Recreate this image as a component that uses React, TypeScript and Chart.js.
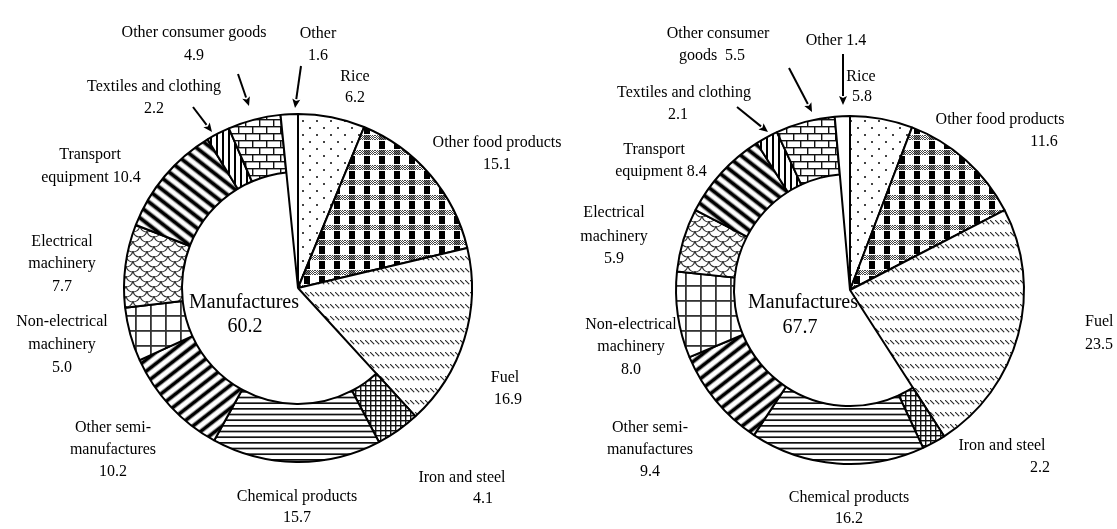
import React, { useEffect, useRef } from 'react';
import { Chart, registerables } from 'chart.js';

Chart.register(...registerables);

// ---------- data ----------
const categories = [
  'Rice', 'Other food products', 'Fuel', 'Iron and steel', 'Chemical products',
  'Other semi-manufactures', 'Non-electrical machinery', 'Electrical machinery',
  'Transport equipment', 'Textiles and clothing', 'Other consumer goods', 'Other',
];
const isManufacture = [false, false, false, true, true, true, true, true, true, true, true, false];
const valuesLeft = [6.2, 15.1, 16.9, 4.1, 15.7, 10.2, 5.0, 7.7, 10.4, 2.2, 4.9, 1.6];
const valuesRight = [5.8, 11.6, 23.5, 2.2, 16.2, 9.4, 8.0, 5.9, 8.4, 2.1, 5.5, 1.4];
const manufacturesLeft = '60.2';
const manufacturesRight = '67.7';

// ---------- layout ----------
const W = 1117;
const H = 529;
const RADIUS = 174;
const INNER_RATIO = 0.667;
const FONT = "'Liberation Serif', 'Times New Roman', serif";

type Line = { t: string; x: number; y: number; align?: CanvasTextAlign; size?: number };
type Arrow = [number, number, number, number];

const labelsLeft: Line[] = [
  { t: 'Other consumer goods', x: 194, y: 33 }, { t: '4.9', x: 194, y: 56 },
  { t: 'Other', x: 318, y: 34 }, { t: '1.6', x: 318, y: 56 },
  { t: 'Rice', x: 355, y: 77 }, { t: '6.2', x: 355, y: 98 },
  { t: 'Other food products', x: 497, y: 143 }, { t: '15.1', x: 497, y: 165 },
  { t: 'Fuel', x: 505, y: 378 }, { t: '16.9', x: 508, y: 400 },
  { t: 'Iron and steel', x: 462, y: 478 }, { t: '4.1', x: 483, y: 499 },
  { t: 'Chemical products', x: 297, y: 497 }, { t: '15.7', x: 297, y: 518 },
  { t: 'Other semi-', x: 113, y: 428 }, { t: 'manufactures', x: 113, y: 450 }, { t: '10.2', x: 113, y: 472 },
  { t: 'Non-electrical', x: 62, y: 322 }, { t: 'machinery', x: 62, y: 345 }, { t: '5.0', x: 62, y: 368 },
  { t: 'Electrical', x: 62, y: 242 }, { t: 'machinery', x: 62, y: 264 }, { t: '7.7', x: 62, y: 287 },
  { t: 'Transport', x: 90, y: 155 }, { t: 'equipment 10.4', x: 91, y: 178 },
  { t: 'Textiles and clothing', x: 154, y: 87 }, { t: '2.2', x: 154, y: 109 },
  { t: 'Manufactures', x: 244, y: 303, size: 20 }, { t: manufacturesLeft, x: 245, y: 327, size: 20 },
];
const arrowsLeft: Arrow[] = [
  [193, 107, 212, 132],
  [238, 74, 249, 106],
  [301, 66, 295, 108],
];

const labelsRight: Line[] = [
  { t: 'Other consumer', x: 718, y: 34 }, { t: 'goods  5.5', x: 712, y: 56 },
  { t: 'Other 1.4', x: 836, y: 41 },
  { t: 'Rice', x: 861, y: 77 }, { t: '5.8', x: 862, y: 97 },
  { t: 'Other food products', x: 1000, y: 120 }, { t: '11.6', x: 1044, y: 142 },
  { t: 'Fuel', x: 1085, y: 322, align: 'left' }, { t: '23.5', x: 1085, y: 345, align: 'left' },
  { t: 'Iron and steel', x: 1002, y: 446 }, { t: '2.2', x: 1040, y: 468 },
  { t: 'Chemical products', x: 849, y: 498 }, { t: '16.2', x: 849, y: 519 },
  { t: 'Other semi-', x: 650, y: 428 }, { t: 'manufactures', x: 650, y: 450 }, { t: '9.4', x: 650, y: 472 },
  { t: 'Non-electrical', x: 631, y: 325 }, { t: 'machinery', x: 631, y: 347 }, { t: '8.0', x: 631, y: 370 },
  { t: 'Electrical', x: 614, y: 213 }, { t: 'machinery', x: 614, y: 237 }, { t: '5.9', x: 614, y: 259 },
  { t: 'Transport', x: 654, y: 150 }, { t: 'equipment 8.4', x: 661, y: 172 },
  { t: 'Textiles and clothing', x: 684, y: 93 }, { t: '2.1', x: 678, y: 115 },
  { t: 'Manufactures', x: 803, y: 303, size: 20 }, { t: manufacturesRight, x: 800, y: 328, size: 20 },
];
const arrowsRight: Arrow[] = [
  [737, 107, 768, 132],
  [789, 68, 812, 112],
  [843, 54, 843, 105],
];

// ---------- patterns ----------
function tile(w: number, h: number, draw: (g: CanvasRenderingContext2D) => void): HTMLCanvasElement {
  const c = document.createElement('canvas');
  c.width = w;
  c.height = h;
  const g = c.getContext('2d')!;
  g.fillStyle = '#fff';
  g.fillRect(0, 0, w, h);
  draw(g);
  return c;
}

function makePatterns(ctx: CanvasRenderingContext2D): (CanvasPattern | string)[] {
  const pat = (c: HTMLCanvasElement, angle = 0) => {
    const p = ctx.createPattern(c, 'repeat')!;
    if (angle) p.setTransform(new DOMMatrix().rotateSelf(angle));
    return p;
  };
  const stripe = (period: number, thick: number) =>
    tile(8, period, (g) => {
      const y0 = (period - thick) / 2;
      g.fillStyle = '#999';
      g.fillRect(0, y0 - 1, 8, thick + 2);
      g.fillStyle = '#000';
      g.fillRect(0, y0, 8, thick);
    });

  // Rice: sparse dots
  const rice = tile(14, 14, (g) => {
    g.fillStyle = '#444';
    g.fillRect(1, 1, 2, 2);
    g.fillRect(8, 8, 2, 2);
  });
  // Other food products: plaid
  const food = tile(15, 15, (g) => {
    for (let y = 0; y < 5; y++) {
      for (let x = 0; x < 15; x++) {
        if ((x + y) % 2 === 0) {
          g.fillStyle = '#444';
          g.fillRect(x, y, 1, 1);
        }
      }
    }
    g.fillStyle = '#000';
    g.fillRect(4, 6, 6, 8);
    g.fillStyle = 'rgba(0,0,0,0.5)';
    g.fillRect(4, 0, 6, 5);
  });
  // Fuel: rows of short diagonal dashes
  const fuel = tile(5, 12, (g) => {
    g.fillStyle = '#333';
    for (let k = 0; k < 4; k++) g.fillRect(k, 4 + k, 1.3, 1.3);
  });
  // Iron and steel: fine grid
  const iron = tile(5, 5, (g) => {
    g.fillStyle = '#111';
    g.fillRect(0, 0, 5, 1.4);
    g.fillRect(0, 0, 1.4, 5);
  });
  // Chemical products: horizontal lines
  const chem = tile(8, 17, (g) => {
    g.fillStyle = '#111';
    for (let k = 0; k < 3; k++) g.fillRect(0, (k * 17) / 3, 8, 1.7);
  });
  // Other semi-manufactures: thick rising stripes
  const semi = stripe(9, 3);
  // Non-electrical machinery: large grid
  const nonElec = tile(15, 15, (g) => {
    g.fillStyle = '#333';
    g.fillRect(0, 0, 15, 1.8);
    g.fillRect(0, 0, 1.8, 15);
  });
  // Electrical machinery: scale pattern
  const elec = tile(14, 10, (g) => {
    g.strokeStyle = '#333';
    g.lineWidth = 1.1;
    for (let cx = -14; cx <= 28; cx += 7) {
      for (let cy = -10; cy <= 20; cy += 5) {
        if (((cx / 7) + (cy / 5)) % 2 !== 0) continue;
        g.beginPath();
        g.arc(cx, cy, 7, 0.15, Math.PI - 0.15);
        g.stroke();
      }
    }
  });
  // Transport equipment: thick falling stripes
  const transport = stripe(9, 3.2);
  // Textiles: vertical lines
  const textiles = tile(6, 6, (g) => {
    g.fillStyle = '#000';
    g.fillRect(0, 0, 2, 6);
  });
  // Other consumer goods: brick
  const brick = tile(14, 14, (g) => {
    g.fillStyle = '#111';
    g.fillRect(0, 0, 14, 1.4);
    g.fillRect(0, 7, 14, 1.4);
    g.fillRect(0, 0, 1.4, 7);
    g.fillRect(7, 7, 1.4, 7);
  });

  return [
    pat(rice), pat(food), pat(fuel), pat(iron), pat(chem), pat(semi, -38),
    pat(nonElec), pat(elec), pat(transport, 38), pat(textiles), pat(brick), '#ffffff',
  ];
}

// ---------- plugin ----------
function makePlugin(labels: Line[], arrows: Arrow[], offsetX: number) {
  return {
    id: 'ringAndLabels',
    afterDatasetsUpdate(chart: any) {
      const meta = chart.getDatasetMeta(0);
      meta.data.forEach((el: any, i: number) => {
        if (isManufacture[i]) el.innerRadius = el.outerRadius * INNER_RATIO;
      });
    },
    afterDraw(chart: any) {
      const ctx: CanvasRenderingContext2D = chart.ctx;
      ctx.save();
      ctx.fillStyle = '#000';
      ctx.textBaseline = 'middle';
      for (const l of labels) {
        ctx.font = `${l.size ?? 16}px ${FONT}`;
        ctx.textAlign = l.align ?? 'center';
        ctx.fillText(l.t, l.x - offsetX, l.y);
      }
      ctx.strokeStyle = '#000';
      ctx.lineWidth = 2;
      for (const [x1, y1, x2, y2] of arrows) {
        const ax1 = x1 - offsetX;
        const ax2 = x2 - offsetX;
        const ang = Math.atan2(y2 - y1, ax2 - ax1);
        const headL = 9;
        const headW = 4;
        const bx = ax2 - headL * Math.cos(ang);
        const by = y2 - headL * Math.sin(ang);
        ctx.beginPath();
        ctx.moveTo(ax1, y1);
        ctx.lineTo(bx, by);
        ctx.stroke();
        ctx.beginPath();
        ctx.moveTo(ax2, y2);
        ctx.lineTo(bx + headW * Math.sin(ang), by - headW * Math.cos(ang));
        ctx.lineTo(bx + 2 * Math.cos(ang), by + 2 * Math.sin(ang));
        ctx.lineTo(bx - headW * Math.sin(ang), by + headW * Math.cos(ang));
        ctx.closePath();
        ctx.fill();
      }
      ctx.restore();
    },
  };
}

type PieProps = {
  values: number[];
  left: number;
  width: number;
  padding: { left: number; top: number; right: number; bottom: number };
  labels: Line[];
  arrows: Arrow[];
};

function PieRing({ values, left, width, padding, labels, arrows }: PieProps) {
  const ref = useRef<HTMLCanvasElement>(null);
  useEffect(() => {
    const canvas = ref.current!;
    const ctx = canvas.getContext('2d')!;
    const chart = new Chart(ctx, {
      type: 'pie',
      data: {
        labels: categories,
        datasets: [
          {
            data: values,
            backgroundColor: makePatterns(ctx) as any,
            borderColor: '#000',
            borderWidth: 2,
          },
        ],
      },
      options: {
        responsive: false,
        animation: false,
        events: [],
        radius: RADIUS,
        layout: { padding },
        plugins: { legend: { display: false }, tooltip: { enabled: false } },
      } as any,
      plugins: [makePlugin(labels, arrows, left)],
    });
    return () => chart.destroy();
  }, []);
  return (
    <canvas
      ref={ref}
      width={width}
      height={H}
      style={{ position: 'absolute', left, top: 0, width, height: H }}
    />
  );
}

export default function App() {
  return (
    <div style={{ position: 'absolute', left: 0, top: 0, width: W, height: H, background: '#fff', overflow: 'hidden' }}>
      <PieRing
        values={valuesLeft}
        left={0}
        width={640}
        padding={{ left: 0, top: 47, right: 44, bottom: 0 }}
        labels={labelsLeft}
        arrows={arrowsLeft}
      />
      <PieRing
        values={valuesRight}
        left={520}
        width={597}
        padding={{ left: 63, top: 51, right: 0, bottom: 0 }}
        labels={labelsRight}
        arrows={arrowsRight}
      />
    </div>
  );
}
